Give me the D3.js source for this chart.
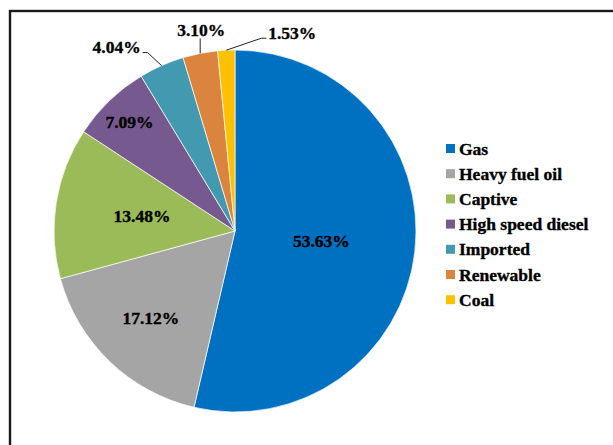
<!DOCTYPE html>
<html>
<head>
<meta charset="utf-8">
<script src="https://cdn.jsdelivr.net/npm/d3@7"></script>
<style>
  html, body { margin: 0; padding: 0; background: #fff; }
  svg { display: block; }
</style>
</head>
<body>
<svg id="chart" width="613" height="445"></svg>
<script>
// Electricity generation share by fuel source
const categories = ["Gas", "Heavy fuel oil", "Captive", "High speed diesel", "Imported", "Renewable", "Coal"];
const shares = [53.63, 17.12, 13.48, 7.09, 4.04, 3.10, 1.53];
const colors = ["#0070C0", "#A5A5A5", "#9BBB59", "#76598F", "#4399B0", "#DB843D", "#FFC000"];

// Label placement: inside labels sit at a fraction of the radius along the
// slice's mid-angle; outside labels are offset from the slice's rim point.
const labelLayout = [
  { inside: true, k: 0.48 },
  { inside: true, k: 0.67 },
  { inside: true, k: 0.52 },
  { inside: true, k: 0.84 },
  { inside: false, dx: -45, dy: -19, line: [[-14, -13], [-19, -13]] },
  { inside: false, dx: 1, dy: -23, line: [[0, -15]] },
  { inside: false, dx: 66, dy: -17, line: [[35, -12], [40, -12]] }
];

const svg = d3.select("#chart");
const serif = "'Times New Roman', 'Liberation Serif', serif";

// Chart frame
svg.append("rect")
  .attr("x", 10).attr("y", 11)
  .attr("width", 640).attr("height", 460)
  .attr("fill", "none")
  .attr("stroke", "#1a1a1a")
  .attr("stroke-width", 2.4);

const cx = 235, cy = 231, r = 181;
const g = svg.append("g").attr("transform", `translate(${cx},${cy})`);

const pie = d3.pie().sort(null).value(d => d);
const arcs = pie(shares);
const arc = d3.arc().innerRadius(0).outerRadius(r);

g.selectAll("path.slice")
  .data(arcs)
  .join("path")
  .attr("class", "slice")
  .attr("d", arc)
  .attr("fill", (d, i) => colors[i])
  .attr("stroke", "#fff")
  .attr("stroke-width", 0.7);

const fmt = v => v.toFixed(2) + "%";

arcs.forEach((d, i) => {
  const lay = labelLayout[i];
  const mid = (d.startAngle + d.endAngle) / 2;
  const ux = Math.sin(mid), uy = -Math.cos(mid);
  let lx, ly;
  if (lay.inside) {
    lx = ux * r * lay.k;
    ly = uy * r * lay.k;
  } else {
    const ex = ux * r, ey = uy * r;
    lx = ex + lay.dx;
    ly = ey + lay.dy;
    const pts = [[ex, ey]].concat(lay.line.map(p => [ex + p[0], ey + p[1]]));
    g.append("path")
      .attr("d", d3.line()(pts))
      .attr("fill", "none")
      .attr("stroke", "#222")
      .attr("stroke-width", 1);
  }
  g.append("text")
    .attr("x", lx).attr("y", ly)
    .attr("text-anchor", "middle")
    .attr("dominant-baseline", "central")
    .attr("font-family", serif)
    .attr("font-weight", "bold")
    .attr("font-size", 17.5)
    .attr("fill", "#000")
    .attr("stroke", "#000")
    .attr("stroke-width", 0.35)
    .text(fmt(shares[i]));
});

// Legend
const legend = svg.append("g").attr("transform", "translate(446,148.5)");
const row = legend.selectAll("g")
  .data(categories)
  .join("g")
  .attr("transform", (d, i) => `translate(0,${i * 25.2})`);
row.append("rect")
  .attr("x", 0).attr("y", -4.5)
  .attr("width", 9).attr("height", 9)
  .attr("fill", (d, i) => colors[i]);
row.append("text")
  .attr("x", 13).attr("y", 0)
  .attr("dominant-baseline", "central")
  .attr("font-family", serif)
  .attr("font-weight", "bold")
  .attr("font-size", 17.5)
  .attr("fill", "#000")
  .attr("stroke", "#000")
  .attr("stroke-width", 0.35)
  .text(d => d);
</script>
</body>
</html>
